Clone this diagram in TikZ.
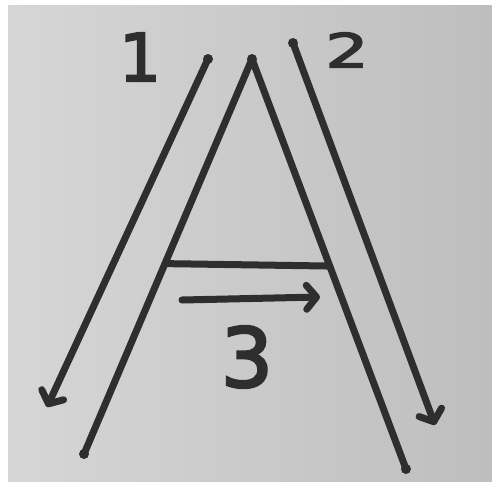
\documentclass[tikz,border=0pt]{standalone}
\usepackage{fontspec}
\setmainfont{DejaVu Sans}
\newfontfamily\handfont[FakeBold=3]{DejaVu Sans}
\usetikzlibrary{arrows.meta,calc}
\definecolor{paper}{HTML}{D6D6D6}
\definecolor{paperdk}{HTML}{BEBEBE}
\definecolor{ink}{HTML}{2E2E2E}

\begin{document}
\begin{tikzpicture}[x=1pt,y=-1pt,
  stroke/.style={line width=7pt,ink,line cap=round,line join=round},
  arr/.style={stroke,-{Straight Barb[round,length=10pt,width=24pt]}},
  dot/.style={circle,fill=ink,inner sep=0pt,minimum size=10pt},
  num/.style={text=ink,inner sep=0pt}]
  \useasboundingbox (0,0) rectangle (492,496);
  \shade[left color=paper,right color=paperdk] (8,5) rectangle (492,481);
  % the letter
  \coordinate (apex) at (252,59);
  \coordinate (lfoot) at (84,454);
  \coordinate (rfoot) at (406,469);
  \coordinate (barl) at ($(apex)!0.518!(lfoot)$);
  \coordinate (barr) at ($(apex)!0.505!(rfoot)$);
  \draw[stroke] (lfoot) -- (apex) -- (rfoot);
  \draw[stroke] (barl) -- (barr);
  \node[dot] (apexdot) at (apex) {};
  \node[dot] (ldot) at (lfoot) {};
  \node[dot] (rdot) at (rfoot) {};
  % stroke order arrows
  \node[dot] (start1) at (208,59) {};
  \node[dot] (start2) at (293,43) {};
  \coordinate (tip1) at (47,407);
  \coordinate (tip2) at (435,425);
  \coordinate (start3) at (182,300);
  \coordinate (tip3) at (320,297);
  \draw[arr] (start1.center) -- (tip1);
  \draw[arr] (start2.center) -- (tip2);
  \draw[arr] (start3) -- (tip3);
  % numbers
  \node[num,font=\fontsize{66}{66}\selectfont\handfont] (one) at (140,57) {1};
  \node[num,font=\fontsize{47}{47}\selectfont\handfont] (two) at (347,50) {\scalebox{1.45}[1]{2}};
  \node[num,font=\fontsize{82}{82}\selectfont\handfont] (three) at (247,357) {3};
\end{tikzpicture}
\end{document}
